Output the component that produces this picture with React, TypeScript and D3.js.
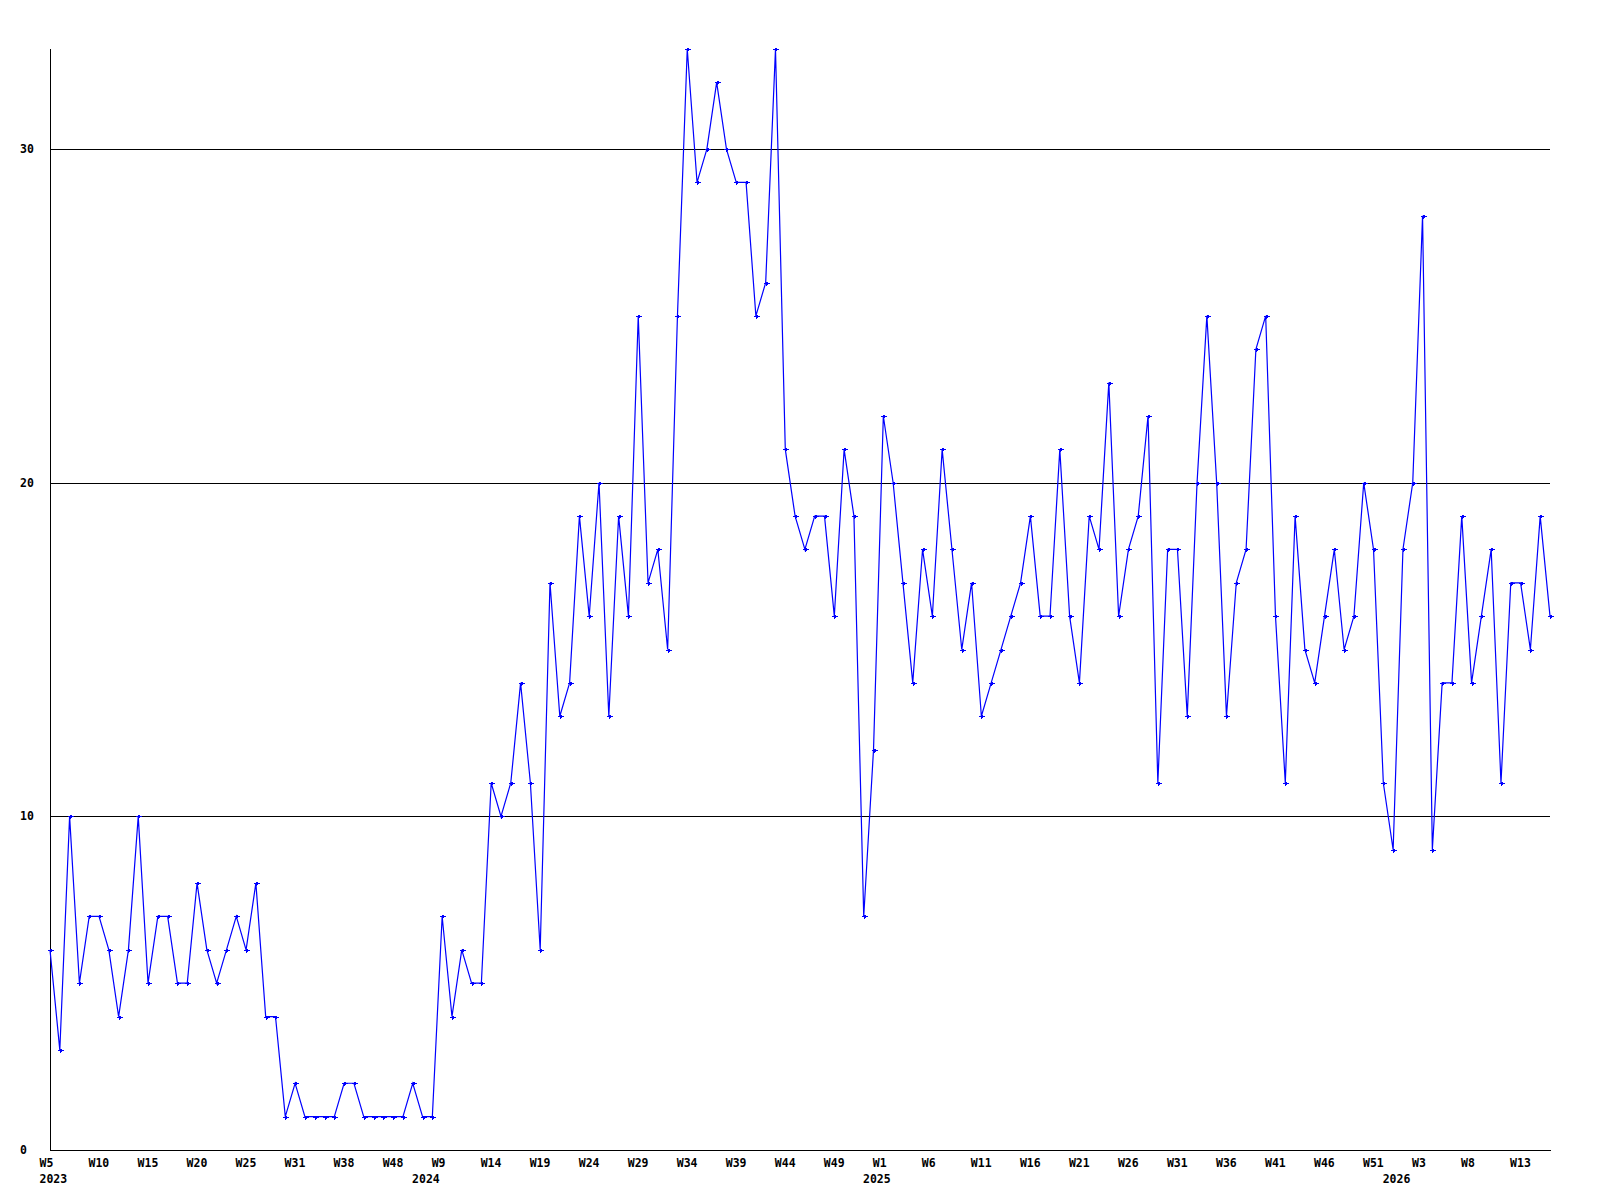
import React from "react";
import * as d3 from "d3";

const values: number[] = [
  6, 3, 10, 5, 7, 7, 6, 4, 6, 10, 5, 7, 7, 5, 5, 8, 6, 5, 6, 7,
  6, 8, 4, 4, 1, 2, 1, 1, 1, 1, 2, 2, 1, 1, 1, 1, 1, 2, 1, 1,
  7, 4, 6, 5, 5, 11, 10, 11, 14, 11, 6, 17, 13, 14, 19, 16, 20, 13, 19, 16,
  25, 17, 18, 15, 25, 33, 29, 30, 32, 30, 29, 29, 25, 26, 33, 21, 19, 18, 19, 19,
  16, 21, 19, 7, 12, 22, 20, 17, 14, 18, 16, 21, 18, 15, 17, 13, 14, 15, 16, 17,
  19, 16, 16, 21, 16, 14, 19, 18, 23, 16, 18, 19, 22, 11, 18, 18, 13, 20, 25, 20,
  13, 17, 18, 24, 25, 16, 11, 19, 15, 14, 16, 18, 15, 16, 20, 18, 11, 9, 18, 20,
  28, 9, 14, 14, 19, 14, 16, 18, 11, 17, 17, 15, 19, 16,
];

const weekLabels: string[] = [
  "W5", "W10", "W15", "W20", "W25", "W31", "W38", "W48", "W9", "W14",
  "W19", "W24", "W29", "W34", "W39", "W44", "W49", "W1", "W6", "W11",
  "W16", "W21", "W26", "W31", "W36", "W41", "W46", "W51", "W3", "W8", "W13",
];
const weekLabelStep = 5;

const yearLabels: string[] = ["2023", "2024", "2025", "2026"];
const yearLabelIndex: number[] = [0, 38, 84, 137];

const yTicks: number[] = [0, 10, 20, 30];
const yMax = 33;

const W = 1600;
const H = 1200;
const left = 50;
const right = 1550;
const top = 49;
const bottom = 1150;

const font = "'DejaVu Sans Mono', 'Liberation Mono', monospace";

export default function App() {
  const x = d3.scaleLinear().domain([0, values.length - 1]).range([left, right]);
  const y = d3.scaleLinear().domain([0, yMax]).range([bottom, top]);

  const line = d3
    .line<number>()
    .x((_, i) => x(i))
    .y((d) => y(d));

  const markers = values
    .map((d, i) => {
      const px = Math.round(x(i)) + 0.5;
      const py = Math.round(y(d)) + 0.5;
      return `M${px - 3},${py}H${px + 3}M${px - 1},${py - 1}H${px + 1}M${px - 1},${py + 1}H${px + 1}M${px},${py - 2}V${py + 2}`;
    })
    .join("");

  return (
    <svg
      width={W}
      height={H}
      style={{ position: "absolute", left: 0, top: 0, background: "#fff" }}
    >
      <rect x={0} y={0} width={W} height={H} fill="#fff" />
      {yTicks
        .filter((t) => t > 0)
        .map((t) => (
          <line
            key={"g" + t}
            x1={left}
            x2={right}
            y1={Math.round(y(t)) + 0.5}
            y2={Math.round(y(t)) + 0.5}
            stroke="#000"
            strokeWidth={1}
            shapeRendering="crispEdges"
          />
        ))}
      <line
        x1={left + 0.5}
        x2={left + 0.5}
        y1={top}
        y2={bottom + 0.5}
        stroke="#000"
        strokeWidth={1}
        shapeRendering="crispEdges"
      />
      <line
        x1={left}
        x2={right + 1}
        y1={bottom + 0.5}
        y2={bottom + 0.5}
        stroke="#000"
        strokeWidth={1}
        shapeRendering="crispEdges"
      />
      {yTicks.map((t) => (
        <text
          key={"y" + t}
          x={20}
          y={y(t) + 4}
          fontFamily={font}
          fontWeight="bold"
          fontSize={11.5}
          fill="#000"
        >
          {t}
        </text>
      ))}
      {weekLabels.map((l, k) => (
        <text
          key={"w" + k}
          x={x(k * weekLabelStep) - 10.5}
          y={1167}
          fontFamily={font}
          fontWeight="bold"
          fontSize={11.5}
          fill="#000"
        >
          {l}
        </text>
      ))}
      {yearLabels.map((l, k) => (
        <text
          key={"yr" + k}
          x={x(yearLabelIndex[k]) - 10.5}
          y={1183}
          fontFamily={font}
          fontWeight="bold"
          fontSize={11.5}
          fill="#000"
        >
          {l}
        </text>
      ))}
      <path
        d={line(values) || ""}
        fill="none"
        stroke="#0000ff"
        strokeWidth={1.2}
      />
      <path
        d={markers}
        fill="none"
        stroke="#0000ff"
        strokeWidth={1}
        shapeRendering="crispEdges"
      />
    </svg>
  );
}
